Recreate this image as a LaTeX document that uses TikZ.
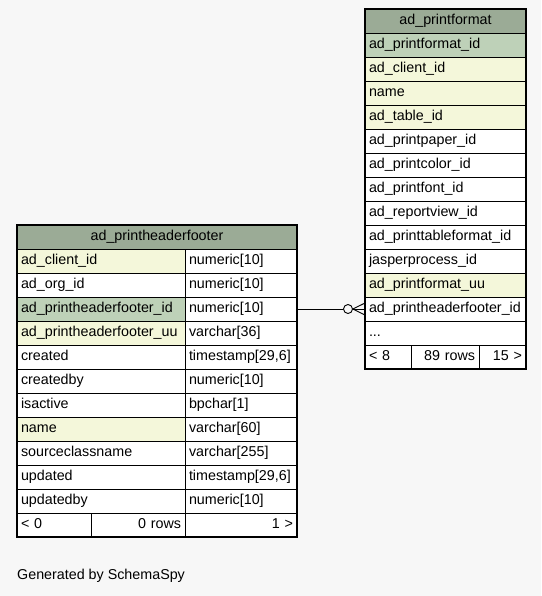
\documentclass[tikz,border=0pt]{standalone}
\usepackage{fontspec}
\setmainfont{Liberation Sans}
\usetikzlibrary{positioning,calc}

\definecolor{bgcol}{HTML}{F7F7F7}
\definecolor{headcol}{HTML}{9BAB96}
\definecolor{pkcol}{HTML}{BED1B8}
\definecolor{idxcol}{HTML}{F4F7DA}
\newcommand\tabfont{\fontsize{14.3}{16}\selectfont}
\newcommand\moredots{...}

\begin{document}
\begin{tikzpicture}[x=1pt, y=-1pt,
  cell/.style={draw, rectangle, anchor=north west, fill=white, minimum height=24pt, inner xsep=4pt, inner ysep=0pt, outer sep=0pt,
    text height=10.5pt, text depth=3pt, align=left, font=\tabfont, line width=0.8pt},
  hdr/.style={cell, fill=headcol, align=center},
  rcell/.style={cell, align=right},
  outer/.style={draw, line width=2.4pt},
  fkline/.style={line width=0.9pt}
]
\fill[bgcol] (0,0) rectangle (541,596);
\useasboundingbox (0,0) rectangle (541,596);

% ad_printformat
\node[hdr, text width=153pt] (pf-head) at (365,9) {ad\_printformat};
\foreach \name/\col [count=\i] in {ad\_printformat\_id/pkcol, ad\_client\_id/idxcol, name/idxcol, ad\_table\_id/idxcol,
    ad\_printpaper\_id/white, ad\_printcolor\_id/white, ad\_printfont\_id/white, ad\_reportview\_id/white,
    ad\_printtableformat\_id/white, jasperprocess\_id/white, ad\_printformat\_uu/idxcol,
    ad\_printheaderfooter\_id/white, \moredots/white}
  \node[cell, fill=\col, text width=153pt] (pf-\i) at (365,{9+24*\i}) {\name};
\node[cell, text width=38pt] (pf-f1) at (365,345) {< 8};
\node[rcell, text width=60pt] (pf-f2) at (411,345) {89 rows};
\node[rcell, text width=39pt] (pf-f3) at (479,345) {15 >};
\draw[outer] (pf-head.north west) rectangle (pf-f3.south east);

% ad_printheaderfooter
\node[hdr, text width=272pt] (phf-head) at (17,225) {ad\_printheaderfooter};
\foreach \name/\col/\type [count=\i] in {ad\_client\_id/idxcol/numeric[10], ad\_org\_id/white/numeric[10],
    ad\_printheaderfooter\_id/pkcol/numeric[10], ad\_printheaderfooter\_uu/idxcol/varchar[36],
    created/white/timestamp[29{,}6], createdby/white/numeric[10], isactive/white/bpchar[1],
    name/idxcol/varchar[60], sourceclassname/white/varchar[255], updated/white/timestamp[29{,}6],
    updatedby/white/numeric[10]}
{
  \node[cell, fill=\col, text width=160pt] (phf-a\i) at (17,{225+24*\i}) {\name};
  \node[cell, text width=104pt] (phf-b\i) at (185,{225+24*\i}) {\type};
}
\node[cell, text width=66pt] (phf-f1) at (17,513) {< 0};
\node[rcell, text width=86pt] (phf-f2) at (91,513) {0 rows};
\node[rcell, text width=104pt] (phf-f3) at (185,513) {1 >};
\draw[outer] (phf-head.north west) rectangle (phf-f3.south east);

% foreign key
\node[circle, draw, fkline, fill=bgcol, minimum size=9pt, inner sep=0pt] (fk-end) at ($(pf-12.west)+(-17,0)$) {};
\draw[fkline] (phf-b3.east) -- (fk-end);
\draw[fkline] (fk-end.east) -- (pf-12.west);
\draw[fkline] (fk-end.east) -- ($(pf-12.west)+(0,-6)$);
\draw[fkline] (fk-end.east) -- ($(pf-12.west)+(0,6)$);

\node[anchor=west, inner sep=0pt, font=\tabfont] (gen) at (17,576) {Generated by SchemaSpy};
\end{tikzpicture}
\end{document}
